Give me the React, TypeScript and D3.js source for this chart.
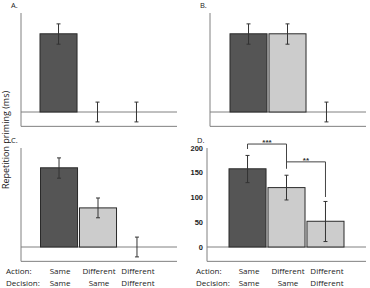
import React from "react";
import * as d3 from "d3";

const categories = [0, 1, 2];
const actionLabels = ["Same", "Different", "Different"];
const decisionLabels = ["Same", "Same", "Different"];
const barFills = ["dark", "light", "light"];

const valuesA = [158, 0, 0];
const showA = [true, false, false];
const errLoA = [137, -20, -20];
const errHiA = [178, 20, 20];

const valuesB = [158, 158, 0];
const showB = [true, true, false];
const errLoB = [137, 137, -20];
const errHiB = [178, 178, 20];

const valuesC = [160, 79, 0];
const showC = [true, true, false];
const errLoC = [139, 59, -20];
const errHiC = [180, 99, 20];

const valuesD = [158, 120, 52];
const showD = [true, true, true];
const errLoD = [130, 95, 11];
const errHiD = [185, 145, 92];

const yTicksD = [0, 50, 100, 150, 200];

// significance brackets in panel D: [from category, to category, level, left leg end, right leg end, label]
const sigFrom = [0, 1];
const sigTo = [1, 2];
const sigLevel = [208, 172];
const sigLeftEnd = [198, 172];
const sigRightEnd = [158, 101];
const sigLabel = ["***", "**"];

const FONT = "'Open Sans', 'DejaVu Sans', sans-serif";
const DARK = "#555555";
const LIGHT = "#cccccc";
const AXIS = "#808080";

type PanelProps = {
  letter: string;
  axisX: number;
  bandStart: number;
  right: number;
  baseline: number;
  values: number[];
  show: boolean[];
  lo: number[];
  hi: number[];
  ticks?: boolean;
  sig?: boolean;
};

function Panel(p: PanelProps) {
  const y = d3.scaleLinear().domain([-29, 200]).range([p.baseline + 29 * 0.495, p.baseline - 99]);
  const x = d3
    .scaleBand<number>()
    .domain(categories)
    .range([p.bandStart, p.bandStart + 115])
    .paddingInner(0.05)
    .paddingOuter(0);
  const bw = x.bandwidth();
  const cx = (i: number) => (x(i) as number) + bw / 2;
  return (
    <g>
      <text x={p.axisX - 10} y={y(200) - 5} fontSize={7.5} fontFamily={FONT} fill="#222">
        {p.letter}
      </text>
      {/* zero line */}
      <line x1={p.axisX} x2={p.right} y1={y(0)} y2={y(0)} stroke={AXIS} strokeWidth={1} />
      {/* axes */}
      <path
        d={`M${p.axisX},${y(200)}V${y(-29)}H${p.right}`}
        fill="none"
        stroke={AXIS}
        strokeWidth={1}
      />
      {p.ticks &&
        yTicksD.map((t) => (
          <text
            key={t}
            x={p.axisX - 4}
            y={y(t) + 2.7}
            textAnchor="end"
            fontSize={7.5}
            fontWeight="bold"
            fontFamily="'Liberation Sans', Arial, sans-serif"
            fill="#222"
          >
            {t}
          </text>
        ))}
      {categories.map((c, i) =>
        p.show[i] ? (
          <rect
            key={"b" + i}
            x={x(c)}
            y={y(Math.max(0, p.values[i]))}
            width={bw}
            height={Math.abs(y(p.values[i]) - y(0))}
            fill={barFills[i] === "dark" ? DARK : LIGHT}
            stroke="#2a2a2a"
            strokeWidth={1}
          />
        ) : null
      )}
      {categories.map((c, i) => (
        <g key={"e" + i} stroke="#333" strokeWidth={1}>
          <line x1={cx(i)} x2={cx(i)} y1={y(p.hi[i])} y2={y(p.lo[i])} />
          <line x1={cx(i) - 2} x2={cx(i) + 2} y1={y(p.hi[i])} y2={y(p.hi[i])} />
          <line x1={cx(i) - 2} x2={cx(i) + 2} y1={y(p.lo[i])} y2={y(p.lo[i])} />
        </g>
      ))}
      {p.sig &&
        sigFrom.map((f, k) => {
          const x1 = cx(f);
          const x2 = cx(sigTo[k]);
          const yl = y(sigLevel[k]);
          return (
            <g key={"s" + k}>
              <path
                d={`M${x1},${y(sigLeftEnd[k])}V${yl}H${x2}V${y(sigRightEnd[k])}`}
                fill="none"
                stroke="#444"
                strokeWidth={1}
              />
              <text
                x={(x1 + x2) / 2}
                y={yl + 1}
                textAnchor="middle"
                fontSize={8}
                fontWeight="bold"
                fontFamily="'Liberation Sans', Arial, sans-serif"
                fill="#333"
              >
                {sigLabel[k]}
              </text>
            </g>
          );
        })}
    </g>
  );
}

function Labels({ left, bandStart }: { left: number; bandStart: number }) {
  const x = d3
    .scaleBand<number>()
    .domain(categories)
    .range([bandStart, bandStart + 115])
    .paddingInner(0.05)
    .paddingOuter(0);
  const bw = x.bandwidth();
  const cx = (i: number) => (x(i) as number) + bw / 2 + 1.5;
  return (
    <g fontFamily={FONT} fontSize={8} fill="#222">
      <text x={left} y={274}>Action:</text>
      <text x={left} y={285.5}>Decision:</text>
      {categories.map((c, i) => (
        <text key={"a" + i} x={cx(i)} y={274} textAnchor="middle">
          {actionLabels[i]}
        </text>
      ))}
      {categories.map((c, i) => (
        <text key={"d" + i} x={cx(i)} y={285.5} textAnchor="middle">
          {decisionLabels[i]}
        </text>
      ))}
    </g>
  );
}

export default function App() {
  return (
    <svg
      width={370}
      height={288}
      style={{ position: "absolute", left: 0, top: 0, background: "#fff" }}
    >
      <rect width={370} height={288} fill="#fff" />
      <text
        transform="translate(9,140) rotate(-90)"
        textAnchor="middle"
        fontSize={9}
        fontFamily={FONT}
        fill="#222"
      >
        Repetition priming (ms)
      </text>
      <Panel letter="A." axisX={21} bandStart={40} right={177} baseline={112} values={valuesA} show={showA} lo={errLoA} hi={errHiA} />
      <Panel letter="B." axisX={210} bandStart={230} right={366} baseline={112} values={valuesB} show={showB} lo={errLoB} hi={errHiB} />
      <Panel letter="C." axisX={21} bandStart={40.5} right={177} baseline={247} values={valuesC} show={showC} lo={errLoC} hi={errHiC} />
      <Panel letter="D." axisX={207} bandStart={229} right={366} baseline={247} values={valuesD} show={showD} lo={errLoD} hi={errHiD} ticks sig />
      <Labels left={6} bandStart={40} />
      <Labels left={196} bandStart={229} />
    </svg>
  );
}
